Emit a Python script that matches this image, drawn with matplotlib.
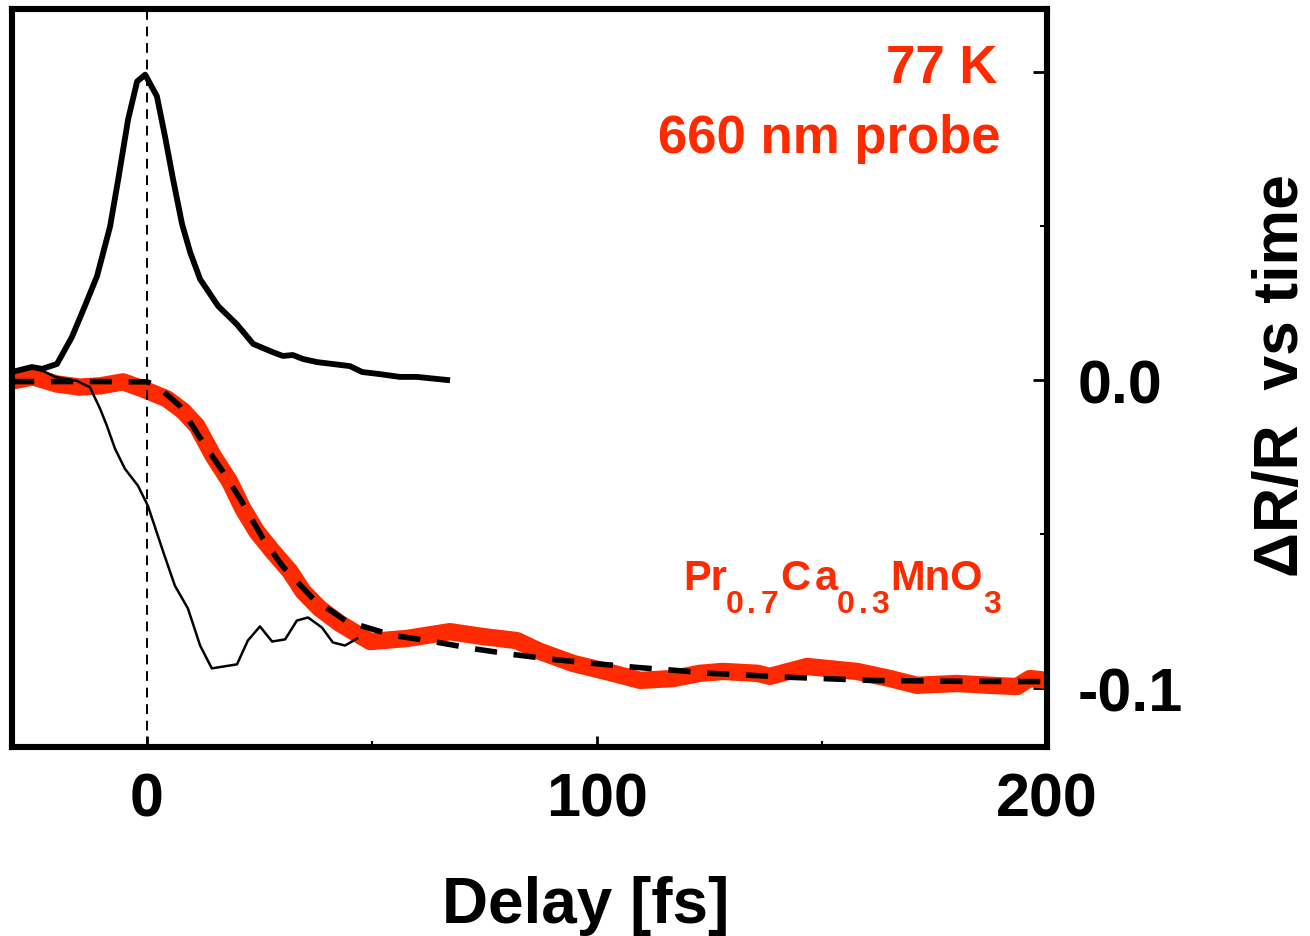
import matplotlib
matplotlib.use("Agg")
import matplotlib.pyplot as plt
from matplotlib.ticker import FixedLocator

plt.rcParams['font.family'] = ['Liberation Sans', 'DejaVu Sans']
plt.rcParams['font.weight'] = 'bold'

RED = '#ff2a00'

# Pulse cross-correlation (thick black)
pulse_t = [-30, -25.6, -23.3, -20, -16.7, -13.8, -11.1, -8.2, -6.4, -4.2, -2.2, -0.4,
           2.2, 4, 5.8, 7.8, 9.6, 11.8, 15.8, 20, 23.6, 28, 30.2, 32.4, 34.7, 37.8,
           45.1, 47.8, 51.8, 56.2, 60, 66.7]
pulse_v = [0.0026, 0.0042, 0.0036, 0.0052, 0.0139, 0.024, 0.0337, 0.0498, 0.065, 0.0845,
           0.0968, 0.099, 0.092, 0.079, 0.065, 0.0505, 0.0414, 0.0327, 0.024, 0.018,
           0.0117, 0.009, 0.0078, 0.0081, 0.0068, 0.0058, 0.0045, 0.0026, 0.0019, 0.001,
           0.001, 0.0]

# Thin black trace
thin_t = [-30, -25.6, -23.1, -20.4, -15.6, -12.7, -10.4, -8.9, -7.1, -4.9, -2.0, 0.2,
          3.6, 6.2, 9.1, 11.8, 14.4, 20, 22.4, 25.1, 27.8, 30.7, 33.3, 35.8, 38.9,
          41.3, 44, 46.7]
thin_v = [0.0026, 0.0042, 0.0029, 0.001, -0.0003, -0.0023, -0.0094, -0.0149, -0.0223,
          -0.0288, -0.0343, -0.0408, -0.0557, -0.0667, -0.0741, -0.0861, -0.0935, -0.0922,
          -0.0845, -0.0799, -0.0848, -0.0841, -0.078, -0.077, -0.0803, -0.0851, -0.0861,
          -0.0838]

# Measured dR/R (thick red)
red_t = [-30, -25.3, -20, -14.9, -10.4, -5.3, -0.9, 4.4, 8, 11.1, 14.7, 18.4, 21.3, 24.4,
         28, 31.8, 34.7, 38.4, 42.9, 49.6, 57.8, 67.3, 74.7, 82.2, 87.3, 94.7, 103.6,
         109.6, 116.9, 122.9, 128, 135.6, 138.4, 146.7, 157.8, 165.1, 171.1, 180, 187.3,
         193.3, 196.2, 200]
red_v = [-0.0003, 0.001, -0.0013, -0.0023, -0.0019, -0.0006, -0.0029, -0.0061, -0.01,
         -0.0149, -0.0246, -0.033, -0.0417, -0.0492, -0.0557, -0.0621, -0.0686, -0.0741,
         -0.079, -0.0848, -0.0838, -0.0816, -0.0832, -0.0845, -0.088, -0.0919, -0.0951,
         -0.0974, -0.0968, -0.0951, -0.0945, -0.0951, -0.0961, -0.0929, -0.0945, -0.0968,
         -0.099, -0.0984, -0.099, -0.0994, -0.0968, -0.0974]

# Fit (black dashed)
fit_t = [-30, -10, 0, 2.2, 7.3, 12.4, 16.9, 20.7, 25.8, 30.2, 36.9, 44.4, 54.7, 63.6,
         72.4, 81.3, 90.2, 99.1, 108.9, 117.8, 125.1, 142.9, 160.7, 180, 200]
fit_v = [-0.0005, -0.0005, -0.0006, -0.0019, -0.0084, -0.0201, -0.0298, -0.0385, -0.0515,
         -0.0605, -0.0709, -0.0783, -0.0828, -0.0848, -0.0871, -0.089, -0.0906, -0.0919,
         -0.0932, -0.0942, -0.0951, -0.0964, -0.0974, -0.0977, -0.0978]

x_major = [0, 100, 200]
x_major_labels = ['0', '100', '200']
x_minor = [50, 150]
y_major = [-0.1, 0.0, 0.1]
y_major_labels = ['-0.1', '0.0', '']
y_minor = [-0.05, 0.05]

# formula "Pr0.7Ca0.3MnO3" pieces: (text, is_subscript)
formula_parts = [('Pr', False), ('0', True), ('.', True), ('7', True), ('C', False),
                 ('a', False), ('0', True), ('.', True), ('3', True), ('MnO', False),
                 ('3', True)]

W, H = 1310, 937
AX_L, AX_R, AX_T, AX_B = 12, 1047, 10, 748

fig = plt.figure(figsize=(W / 100, H / 100), dpi=100)
ax = fig.add_axes([AX_L / W, 1 - AX_B / H, (AX_R - AX_L) / W, (AX_B - AX_T) / H])


def axx(px):
    return (px - AX_L) / (AX_R - AX_L)


def axy(py):
    return (AX_B - py) / (AX_B - AX_T)


ax.plot(red_t, red_v, color=RED, lw=12.5, solid_capstyle='butt', solid_joinstyle='round', zorder=2)
ax.plot(thin_t, thin_v, color='black', lw=1.8, zorder=3)
ax.plot(fit_t, fit_v, color='black', lw=4.0, dashes=(4.0, 3.0), zorder=4)
ax.plot(pulse_t, pulse_v, color='black', lw=4.2, zorder=4)
ax.axvline(0, color='black', lw=1.4, dashes=(5, 3.5), zorder=5)

ax.set_xlim(-30, 200)
ax.set_ylim(-0.119, 0.1203)

for s in ax.spines.values():
    s.set_linewidth(4.4)
    s.set_zorder(6)

ax.xaxis.set_major_locator(FixedLocator(x_major))
ax.set_xticklabels(x_major_labels)
ax.xaxis.set_minor_locator(FixedLocator(x_minor))
ax.yaxis.set_major_locator(FixedLocator(y_major))
ax.set_yticklabels(y_major_labels)
ax.yaxis.set_minor_locator(FixedLocator(y_minor))

ax.yaxis.tick_right()
ax.tick_params(axis='both', which='both', direction='in', colors='black')
ax.tick_params(axis='x', which='major', length=8, width=2, pad=18, labelsize=44)
ax.tick_params(axis='x', which='minor', length=4, width=1.5)
ax.tick_params(axis='y', which='major', length=10, width=2, pad=22, labelsize=44,
               left=False, right=True)
ax.tick_params(axis='y', which='minor', length=5, width=1.5, left=False, right=True)

ax.set_xlabel('Delay [fs]', fontsize=46, fontweight='bold')
ax.xaxis.set_label_coords(axx(586), axy(876))
ax.yaxis.set_label_position('right')
ax.set_ylabel('ΔR/R  vs time', fontsize=45, fontweight='bold', rotation=90)
ax.yaxis.set_label_coords(axx(1252), axy(376))

ax.text(axx(997), axy(83), '77 K', transform=ax.transAxes,
        ha='right', va='baseline', color=RED, fontsize=38, fontweight='bold')
ax.text(axx(1000), axy(153), '660 nm probe', transform=ax.transAxes,
        ha='right', va='baseline', color=RED, fontsize=38, fontweight='bold')

# Pr0.7Ca0.3MnO3 label, placed piece by piece (wide-tracked subscripts as in original)
part_left_px = [683, 725.5, 747, 760.5, 780, 815, 836.5, 859, 871.5, 890, 983.5]
for (txt, is_sub), px in zip(formula_parts, part_left_px):
    ax.text(axx(px), axy(613 if is_sub else 590), txt, transform=ax.transAxes,
            ha='left', va='baseline', color=RED, fontweight='bold',
            fontsize=23 if is_sub else 30)

fig.savefig('out.png', dpi=100)
